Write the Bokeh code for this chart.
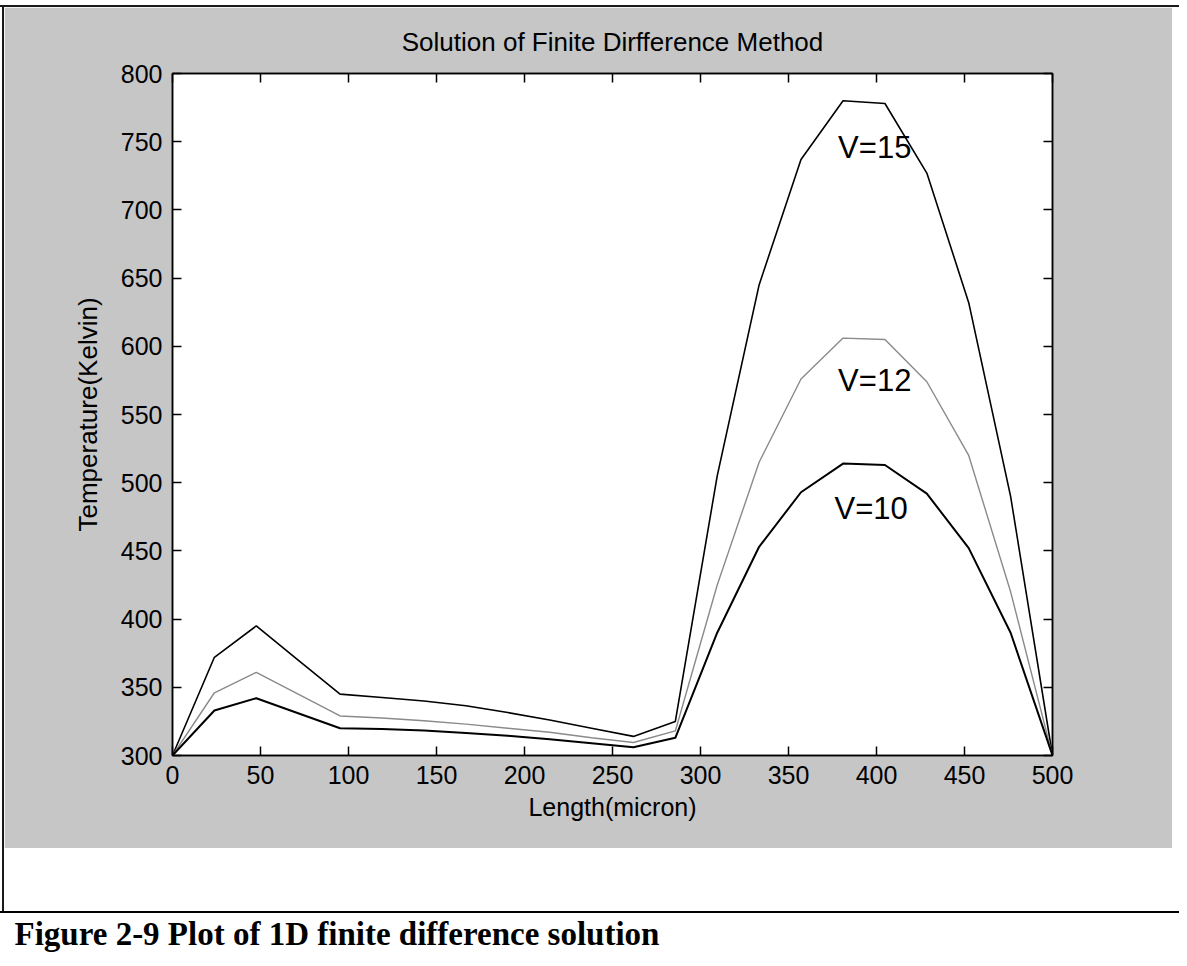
from bokeh.plotting import figure
from bokeh.models import Range1d, LinearAxis, FixedTicker, ColumnDataSource, Div, Spacer
from bokeh.layouts import column, row
from bokeh.core.properties import value
from bokeh.embed import file_html
from bokeh.resources import INLINE

# ---- data ----
length_um = [0, 23.8, 47.6, 71.4, 95.2, 119.0, 142.9, 166.7, 190.5, 214.3, 238.1,
             261.9, 285.7, 309.5, 333.3, 357.1, 381.0, 404.8, 428.6, 452.4, 476.2, 500]
temp_v15 = [300, 372, 395, 370, 345, 342.5, 340, 336.5, 331.5, 326, 320,
            314, 325, 505, 645, 737, 780, 778, 727, 632, 490, 300]
temp_v12 = [300, 346, 361, 345, 329, 327.5, 325.5, 323, 320, 317, 313,
            309.5, 318, 425, 515, 576, 606, 605, 574, 520, 420, 300]
temp_v10 = [300, 333, 342, 331, 320, 319.5, 318.3, 316.5, 314.5, 312, 309,
            306, 313, 390, 453, 493, 514, 513, 492, 452, 390, 300]

label_text = ["V=15", "V=12", "V=10"]
label_x = [399, 399, 397]
label_y = [746, 575, 481]

x_ticks = [0, 50, 100, 150, 200, 250, 300, 350, 400, 450, 500]
y_ticks = [300, 350, 400, 450, 500, 550, 600, 650, 700, 750, 800]

title_text = "Solution of Finite Dirfference Method"
x_label = "Length(micron)"
y_label = "Temperature(Kelvin)"
caption_text = "Figure 2-9  Plot of 1D finite difference solution"

GRAY_BG = "#c6c6c6"
FONT = "Liberation Sans"

p = figure(width=1168, height=841,
           x_range=Range1d(0, 500), y_range=Range1d(300, 800),
           output_backend="svg", toolbar_location=None,
           min_border_left=168, min_border_right=120,
           min_border_top=66, min_border_bottom=93,
           background_fill_color="white", border_fill_color=GRAY_BG,
           outline_line_color="black", outline_line_width=1.5,
           margin=(0, 0, 0, 0))
p.grid.visible = False

p.title.text = title_text
p.title.align = "center"
p.title.text_font = FONT
p.title.text_font_size = "26px"
p.title.text_font_style = "normal"
p.title.text_color = "black"
p.title.standoff = 34


def style_axis(ax, show_labels=True):
    ax.axis_line_color = "black"
    ax.axis_line_width = 1.5
    ax.major_tick_line_color = "black"
    ax.major_tick_line_width = 1.5
    ax.major_tick_in = 9
    ax.major_tick_out = 0
    ax.minor_tick_line_color = None
    ax.major_label_text_font = FONT
    if show_labels:
        ax.major_label_text_color = "black"
        ax.major_label_text_font_size = "25px"
        ax.major_label_standoff = 10
    else:
        ax.major_label_text_color = None
        ax.major_label_text_font_size = "1px"
        ax.major_label_standoff = 0
    ax.axis_label_text_font = FONT
    ax.axis_label_text_font_size = "25px"
    ax.axis_label_text_font_style = "normal"
    ax.axis_label_text_color = "black"


xa = p.xaxis[0]
xa.ticker = FixedTicker(ticks=x_ticks)
xa.axis_label = x_label
style_axis(xa)
xa.axis_label_standoff = 6

ya = p.yaxis[0]
ya.ticker = FixedTicker(ticks=y_ticks)
ya.axis_label = y_label
style_axis(ya)
ya.axis_label_text_font_size = "26px"
ya.axis_label_standoff = 15

top_ax = LinearAxis(ticker=FixedTicker(ticks=x_ticks))
style_axis(top_ax, show_labels=False)
p.add_layout(top_ax, "above")

right_ax = LinearAxis(ticker=FixedTicker(ticks=y_ticks))
style_axis(right_ax, show_labels=False)
p.add_layout(right_ax, "right")

p.line(length_um, temp_v15, line_color="black", line_width=1.6)
p.line(length_um, temp_v12, line_color="#8a8a8a", line_width=1.4)
p.line(length_um, temp_v10, line_color="black", line_width=2.0)

lab_src = ColumnDataSource(dict(x=label_x, y=label_y, t=label_text))
p.text(x="x", y="y", text="t", source=lab_src,
       text_font=value(FONT), text_font_size="31px", text_color="black",
       text_align="center", text_baseline="middle")

# ---- page frame: thin black rules at top and left, white gap, rule, caption ----
NOM = (0, 0, 0, 0)
top_pad = Spacer(width=1179, height=5, margin=NOM)
top_rule = Div(text="", width=1179, height=2, margin=NOM,
               styles={"background-color": "#1a1a1a"})
left_pad = Spacer(width=2, height=904, margin=NOM)
left_rule = Div(text="", width=2, height=904, margin=NOM,
                styles={"background-color": "#1a1a1a"})
gap = Spacer(width=1168, height=63, margin=NOM)
bottom_rule = Div(text="", width=1179, height=2, margin=NOM,
                  styles={"background-color": "black"})

c = figure(width=1168, height=45,
           x_range=Range1d(0, 1), y_range=Range1d(0, 1),
           x_axis_location=None, y_axis_location=None,
           output_backend="svg", toolbar_location=None,
           min_border_left=172, min_border_right=116,
           min_border_top=0, min_border_bottom=0,
           outline_line_color=None,
           background_fill_color="white", border_fill_color="white",
           margin=NOM)
c.grid.visible = False
c.title.text = caption_text
c.title.align = "left"
c.title.offset = -158
c.title.standoff = 0
c.title.text_font = "Liberation Serif"
c.title.text_font_size = "33px"
c.title.text_font_style = "bold"
c.title.text_color = "black"

body = row(left_pad, left_rule, column(p, gap, spacing=0, margin=NOM),
           spacing=0, margin=NOM)
layout = column(top_pad, top_rule, body, bottom_rule, c, spacing=0, margin=NOM)
open("out.html", "w").write(file_html(layout, INLINE))
